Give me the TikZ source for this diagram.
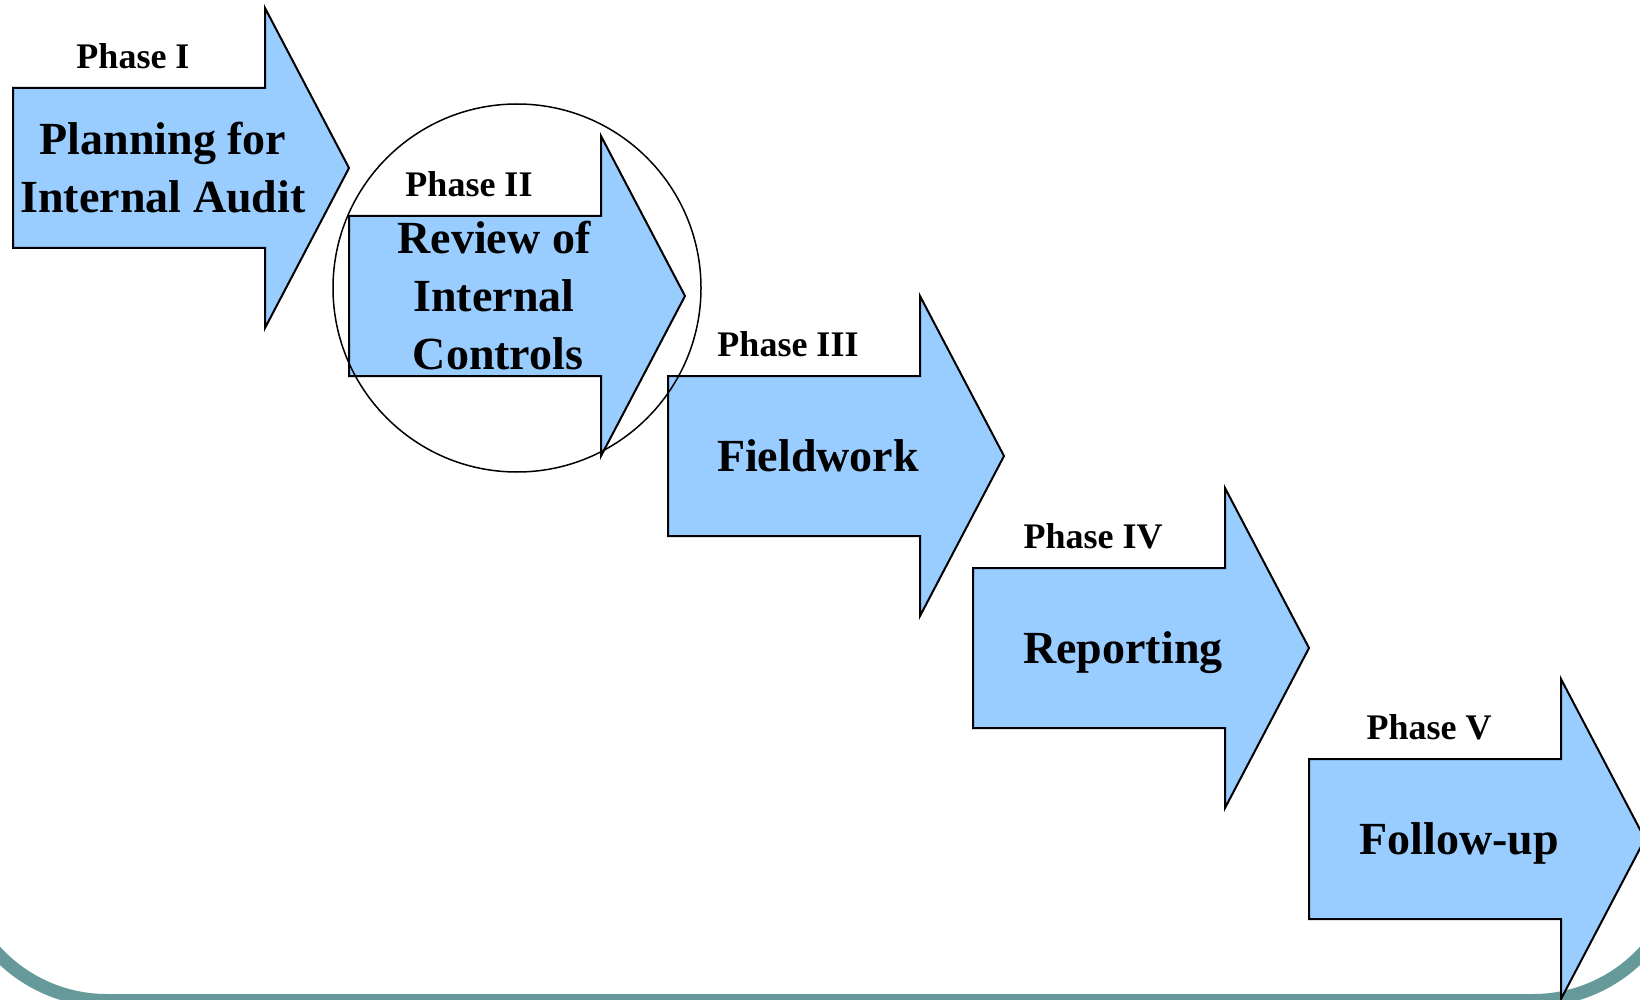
\documentclass[tikz,border=0pt]{standalone}
\usepackage{fontspec}
\setmainfont{Liberation Serif}
\usepackage{xcolor}
\definecolor{PhaseBlue}{HTML}{99CCFF}
\definecolor{FrameTeal}{HTML}{669999}

\begin{document}
\begin{tikzpicture}[x=1pt, y=-1pt,
  arrowbox/.style={fill=PhaseBlue, draw=black, line width=2pt},
  mainlab/.style={font=\fontsize{46}{58}\selectfont\bfseries, align=center, inner sep=0pt},
  phaselab/.style={font=\fontsize{36}{40}\selectfont\bfseries, anchor=base, inner sep=0pt},
]
  \useasboundingbox (0,0) rectangle (1640,1000);

  % Arrow positions (left edge / middle height)
  \def\xa{13}   \def\ya{168}  % Phase I
  \def\xb{349}  \def\yb{296}  % Phase II
  \def\xc{668}  \def\yc{456}  % Phase III
  \def\xd{973}  \def\yd{648}  % Phase IV
  \def\xe{1309} \def\ye{839}  % Phase V
  \def\shl{252} % shaft length
  \def\hdl{84}  % head length

  % Slide frame
  \draw[FrameTeal, line width=13pt, rounded corners=151pt] (-44,-300) rectangle (1684,1000.5);

  % Arrows
  \foreach \l/\c in {\xa/\ya, \xb/\yb, \xc/\yc, \xd/\yd, \xe/\ye} {
    \draw[arrowbox] (\l,\c-80) -- (\l+\shl,\c-80) -- (\l+\shl,\c-160) -- (\l+\shl+\hdl,\c)
      -- (\l+\shl,\c+160) -- (\l+\shl,\c+80) -- (\l,\c+80) -- cycle;
  }

  % Phase labels
  \node[phaselab] (ph1) at (\xa+120, \ya-99.5) {Phase I};
  \node[phaselab] (ph2) at (\xb+120, \yb-99.5) {Phase II};
  \node[phaselab] (ph3) at (\xc+120, \yc-99.5) {Phase III};
  \node[phaselab] (ph4) at (\xd+120, \yd-99.5) {Phase IV};
  \node[phaselab] (ph5) at (\xe+120, \ye-99.5) {Phase V};

  % Arrow texts
  \node[mainlab] (plan) at (\xa+150, \ya) {Planning for\\Internal Audit};
  \node[mainlab] (review) at (\xb+145, \yb) {Review of\\Internal\\\hspace{8pt}Controls};
  \node[mainlab, text depth=0pt] (field) at (\xc+150, \yc) {Fieldwork};
  \node[mainlab, text depth=0pt] (report) at (\xd+150, \yd) {Reporting};
  \node[mainlab, text depth=0pt] (follow) at (\xe+150, \ye) {Follow-up};

  % Highlight round Phase II
  \node[draw, circle, line width=1.5pt, inner sep=0pt, minimum size=368pt] (focus) at (517,288) {};
\end{tikzpicture}
\end{document}
